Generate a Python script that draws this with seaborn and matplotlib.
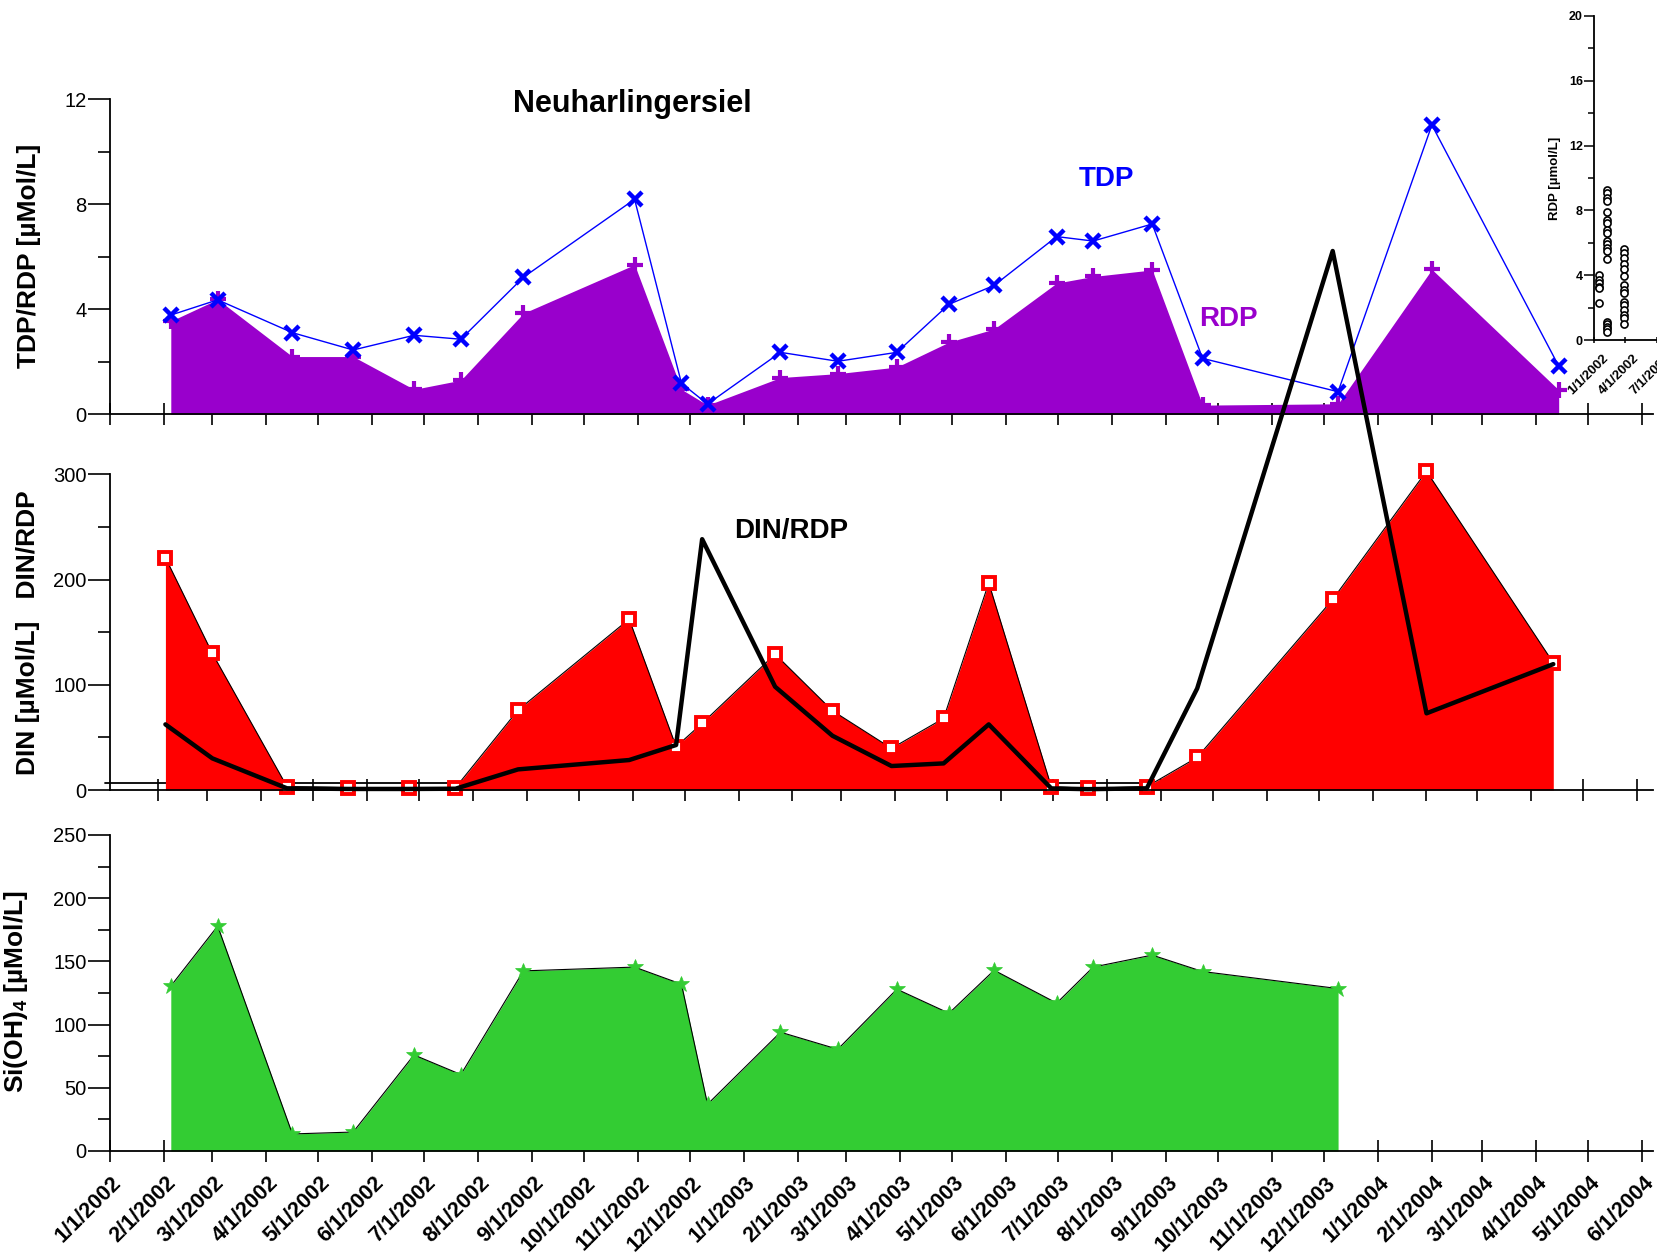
import numpy as np
import pandas as pd
import matplotlib
matplotlib.use("Agg")
import matplotlib.pyplot as plt
from matplotlib.ticker import MultipleLocator, NullLocator
from matplotlib.transforms import ScaledTranslation
import seaborn as sns

# ---------------- data ----------------
sample_dates = pd.to_datetime([
    "2002-02-05", "2002-03-04", "2002-04-16", "2002-05-21", "2002-06-25",
    "2002-07-22", "2002-08-27", "2002-10-30", "2002-11-26", "2002-12-11",
    "2003-01-22", "2003-02-24", "2003-03-30", "2003-04-29", "2003-05-25",
    "2003-06-30", "2003-07-21", "2003-08-24", "2003-09-22", "2003-12-09",
    "2004-02-01", "2004-04-14"])

tdp = [3.78, 4.36, 3.11, 2.45, 3.01, 2.86, 5.22, 8.19, 1.18, 0.39, 2.36,
       2.02, 2.36, 4.19, 4.91, 6.77, 6.60, 7.25, 2.13, 0.86, 11.02, 1.84]
rdp = [3.55, 4.38, 2.20, 2.20, 0.95, 1.30, 3.85, 5.70, 0.95, 0.35, 1.40,
       1.55, 1.80, 2.75, 3.25, 5.00, 5.25, 5.50, 0.35, 0.40, 5.52, 0.93]
din = [221, 130, 3.2, 2.2, 1.6, 2.2, 76, 162.5, 41.2, 63.4, 129.2,
       75.4, 39.6, 68.1, 197, 3.2, 1.6, 3.2, 31, 181.2, 303.1, 121]
din_rdp = [62.4, 30.1, 1.6, 1.0, 1.0, 1.2, 19.6, 28.5, 42.8, 238.5, 98.2,
           51.6, 22.8, 25.3, 62.4, 1.5, 0.8, 1.6, 96.6, 512.5, 72.9, 119.7]
si = [130.5, 178, 13.5, 15, 76, 60.5, 142.5, 145.5, 132, 37, 94,
      80.5, 128, 109, 143, 117, 145.5, 155, 142, 128.5]
si_dates = sample_dates[:len(si)]

din_baseline_dates = pd.to_datetime(["2002-01-01", "2003-08-24"])
din_baseline_level = [7, 7]

tick_labels = [
    "1/1/2002", "2/1/2002", "3/1/2002", "4/1/2002", "5/1/2002", "6/1/2002",
    "7/1/2002", "8/1/2002", "9/1/2002", "10/1/2002", "11/1/2002", "12/1/2002",
    "1/1/2003", "2/1/2003", "3/1/2003", "4/1/2003", "5/1/2003", "6/1/2003",
    "7/1/2003", "8/1/2003", "9/1/2003", "10/1/2003", "11/1/2003", "12/1/2003",
    "1/1/2004", "2/1/2004", "3/1/2004", "4/1/2004", "5/1/2004", "6/1/2004"]
tick_dates = pd.to_datetime(tick_labels, format="%m/%d/%Y")

# inset: RDP scatter
inset_group_dates = ["2002-01-15", "2002-02-08", "2002-03-28"]
inset_rdp_g1 = [4.0, 3.7, 3.5, 3.3, 3.2, 2.3]
inset_rdp_g2 = [1.13, 0.99, 0.82, 0.66, 0.51, 9.25, 9.05, 8.75, 8.6, 7.9,
                7.4, 7.2, 6.8, 6.6, 6.1, 5.9, 5.7, 5.5, 5.0]
inset_rdp_g3 = [5.6, 5.35, 5.05, 4.7, 4.4, 3.95, 3.4, 3.1, 2.9, 2.35, 2.15,
                1.85, 1.55, 1.35, 1.0]
inset_tick_labels = ["1/1/2002", "4/1/2002", "7/1/2002"]
inset_tick_dates = pd.to_datetime(inset_tick_labels, format="%m/%d/%Y")

# ---------------- style ----------------
sns.set_theme(style="white")
plt.rcParams["font.family"] = ["Liberation Sans", "DejaVu Sans"]
plt.rcParams["mathtext.fontset"] = "custom"
plt.rcParams["mathtext.rm"] = "Liberation Sans"
plt.rcParams["mathtext.bf"] = "Liberation Sans:bold"
for k in ["text.color", "axes.labelcolor", "xtick.color", "ytick.color", "axes.edgecolor"]:
    plt.rcParams[k] = "black"
plt.rcParams["axes.linewidth"] = 1.3

PURPLE = "#9900CC"
BLUE = "#0000FF"
RED = "#FF0000"
GREEN = "#33CC33"

W, H = 1658, 1256
fig = plt.figure(figsize=(W / 100, H / 100), dpi=100)


def box(l, t, r, b):
    return [l / W, 1 - b / H, (r - l) / W, (b - t) / H]


ax_top = fig.add_axes(box(110, 99.3, 1653, 414.3))
ax_mid = fig.add_axes(box(110, 474.5, 1653, 790))
ax_bot = fig.add_axes(box(110, 835, 1653, 1151))
ax_ins = fig.add_axes(box(1594, 16, 1720, 340))

start = pd.Timestamp("2002-01-01")
span = pd.Timedelta(days=888.3)
shift = pd.Timedelta(days=3.1)

for ax in (ax_top, ax_mid, ax_bot):
    ax.spines[["top", "right"]].set_visible(False)
    ax.patch.set_visible(False)
    ax.set_xticks(tick_dates)
    ax.xaxis.set_minor_locator(NullLocator())
    ax.tick_params(axis="x", which="major", direction="inout", length=16.5,
                   width=1.2, bottom=True, labelbottom=False)
    ax.tick_params(axis="y", which="major", direction="out", length=16,
                   width=1.2, left=True, labelsize=14.5, pad=1)
    ax.tick_params(axis="y", which="minor", direction="out", length=8.5,
                   width=1.2, left=True)
    ax.grid(False)

ax_top.set_xlim(start, start + span)
ax_mid.set_xlim(start + shift, start + span + shift)
ax_bot.set_xlim(start, start + span)

# ---- top: TDP / RDP ----
ax_top.fill_between(sample_dates, rdp, 0, color=PURPLE, lw=0, zorder=1)
sns.lineplot(x=sample_dates, y=tdp, ax=ax_top, color=BLUE, lw=1.0, sort=False,
             marker="x", markersize=10, markeredgewidth=3.2,
             markeredgecolor=BLUE, zorder=3)
sns.lineplot(x=sample_dates, y=rdp, ax=ax_top, color=PURPLE, linestyle="none",
             sort=False, marker="+", markersize=11, markeredgewidth=3,
             markeredgecolor=PURPLE, zorder=2)
ax_top.set_ylim(0, 12)
ax_top.yaxis.set_major_locator(MultipleLocator(4))
ax_top.yaxis.set_minor_locator(MultipleLocator(2))
ax_top.set_xlabel("")

# ---- middle: DIN and DIN/RDP ----
ax_mid.plot(din_baseline_dates, din_baseline_level, color="black", lw=1.3,
            clip_on=False, zorder=0.5)
ax_mid.fill_between(sample_dates, din, 0, color=RED, lw=0, zorder=1)
sns.lineplot(x=sample_dates, y=din, ax=ax_mid, color="black", lw=0.8,
             sort=False, zorder=1.2)
sns.lineplot(x=sample_dates, y=din, ax=ax_mid, color=RED, linestyle="none",
             sort=False, marker="s", markersize=9, markerfacecolor="white",
             markeredgecolor=RED, markeredgewidth=2.8, zorder=2)
ax_mid.lines[-1].set_clip_on(False)
sns.lineplot(x=sample_dates, y=din_rdp, ax=ax_mid, color="black", lw=3.2,
             sort=False, zorder=4)
ax_mid.lines[-1].set_clip_on(False)
ax_mid.set_ylim(0, 300)
ax_mid.yaxis.set_major_locator(MultipleLocator(100))
ax_mid.yaxis.set_minor_locator(MultipleLocator(50))
ax_mid.set_xlabel("")

# ---- bottom: Si(OH)4 ----
ax_bot.fill_between(si_dates, si, 0, color=GREEN, lw=0, zorder=1)
sns.lineplot(x=si_dates, y=si, ax=ax_bot, color="black", lw=0.8, sort=False,
             zorder=1.2)
sns.lineplot(x=si_dates, y=si, ax=ax_bot, color=GREEN, linestyle="none",
             sort=False, marker="*", markersize=12, markeredgewidth=0.5,
             markeredgecolor=GREEN, zorder=2)
ax_bot.set_ylim(0, 250)
ax_bot.yaxis.set_major_locator(MultipleLocator(50))
ax_bot.yaxis.set_minor_locator(MultipleLocator(25))
ax_bot.set_xlabel("")
ax_bot.set_xticks(tick_dates, labels=tick_labels)
ax_bot.tick_params(axis="x", which="major", labelbottom=True, pad=12.5,
                   labelsize=15.5)

# ---- inset ----
ins_df = pd.DataFrame({
    "date": pd.to_datetime(
        [inset_group_dates[0]] * len(inset_rdp_g1)
        + [inset_group_dates[1]] * len(inset_rdp_g2)
        + [inset_group_dates[2]] * len(inset_rdp_g3)),
    "rdp": inset_rdp_g1 + inset_rdp_g2 + inset_rdp_g3,
})
ax_ins.patch.set_visible(False)
sns.scatterplot(data=ins_df, x="date", y="rdp", ax=ax_ins, marker="o", s=26,
                color="white", edgecolor="black", linewidth=1.2, zorder=3)
ax_ins.spines[["top", "right"]].set_visible(False)
ax_ins.set_xlim(start, start + pd.Timedelta(days=361))
ax_ins.set_ylim(0, 20)
ax_ins.yaxis.set_major_locator(MultipleLocator(4))
ax_ins.yaxis.set_minor_locator(MultipleLocator(2))
ax_ins.set_xticks(inset_tick_dates, labels=inset_tick_labels)
ax_ins.xaxis.set_minor_locator(NullLocator())
ax_ins.tick_params(axis="x", which="major", direction="inout", length=5,
                   width=1.1, bottom=True, labelsize=9.5, pad=9)
ax_ins.tick_params(axis="y", which="major", direction="out", length=7,
                   width=1.1, left=True, labelsize=9, pad=1)
ax_ins.tick_params(axis="y", which="minor", direction="out", length=4.3,
                   width=1.1, left=True)
ax_ins.set_xlabel("")
ax_ins.set_ylabel("")
ax_ins.grid(False)
for tl in ax_ins.get_yticklabels():
    tl.set_fontweight("bold")

# ---- texts ----
fig.text(632.8 / W, 1 - 104 / H, "Neuharlingersiel", fontsize=22,
         fontweight="bold", ha="center", va="center")
fig.text(1107 / W, 1 - 178.5 / H, "TDP", fontsize=20, fontweight="bold",
         color=BLUE, ha="center", va="center")
fig.text(1228 / W, 1 - 319.5 / H, "RDP", fontsize=20, fontweight="bold",
         color=PURPLE, ha="center", va="center")
fig.text(791 / W, 1 - 531 / H, "DIN/RDP", fontsize=20, fontweight="bold",
         color="black", ha="center", va="center")

fig.text(29.5 / W, 1 - 255.5 / H, "TDP/RDP [µMol/L]", fontsize=19,
         fontweight="bold", rotation=90, ha="center", va="center")
fig.text(28 / W, 1 - 632.3 / H, "DIN [µMol/L]   DIN/RDP", fontsize=19,
         fontweight="bold", rotation=90, ha="center", va="center")
fig.text(16 / W, 1 - 992 / H, r"Si(OH)$_\mathbf{4}$ [µMol/L]", fontsize=19,
         fontweight="bold", rotation=90, ha="center", va="center")
fig.text(1555 / W, 1 - 178.5 / H, "RDP [µmol/L]", fontsize=9.5,
         fontweight="bold", rotation=90, ha="center", va="center")

# rotated date labels with offset
for lab in ax_bot.get_xticklabels():
    lab.set_rotation(45)
    lab.set_ha("right")
    lab.set_va("center")
    lab.set_rotation_mode("anchor")
    lab.set_fontweight("bold")
    lab.set_transform(lab.get_transform()
                      + ScaledTranslation(0.085, 0, fig.dpi_scale_trans))
for lab in ax_ins.get_xticklabels():
    lab.set_rotation(45)
    lab.set_ha("right")
    lab.set_va("center")
    lab.set_rotation_mode("anchor")
    lab.set_fontweight("bold")
    lab.set_transform(lab.get_transform()
                      + ScaledTranslation(0.12, 0, fig.dpi_scale_trans))

fig.savefig("out.png", dpi=100)
